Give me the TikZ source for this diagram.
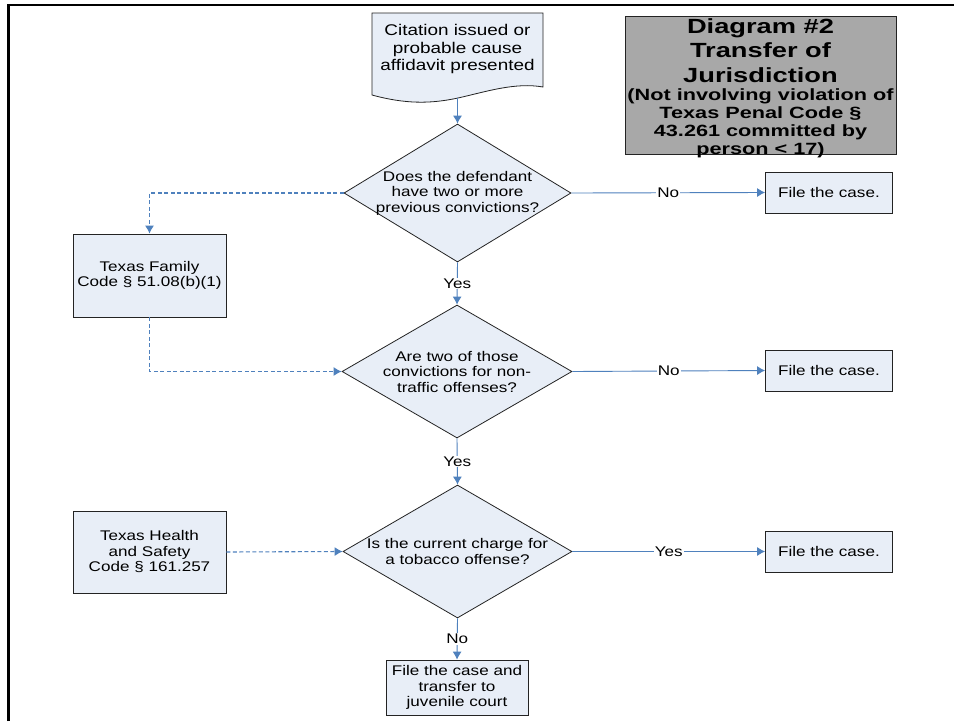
\documentclass[tikz,border=0pt]{standalone}
\usepackage{fontspec}
\setmainfont{Liberation Sans}[FakeStretch=1.22]
\newfontfamily\titlefont{Liberation Sans}[FakeStretch=1.33]
\usetikzlibrary{shapes.geometric,arrows.meta}
\definecolor{nodefill}{RGB}{232,238,247}
\definecolor{conblue}{RGB}{79,129,189}
\definecolor{titlegray}{RGB}{168,168,168}
\definecolor{edgegray}{RGB}{35,35,35}
\begin{document}
\begin{tikzpicture}[x=1pt,y=-1pt,
  txt/.style={font=\fontsize{14}{15.5}\selectfont},
  box/.style={txt, draw=edgegray, line width=0.8pt, fill=nodefill, align=center, inner sep=0pt},
  dec/.style={txt, diamond, draw=edgegray, line width=0.8pt, fill=nodefill, align=center, inner sep=-3pt},
  conn/.style={draw=conblue, line width=0.9pt, -{Latex[length=8pt,width=9pt]}},
  dconn/.style={conn, line width=1.1pt, dash pattern=on 4pt off 2.5pt},
  lbl/.style={txt, fill=white, inner sep=1pt}]
\useasboundingbox (0,0) rectangle (954,721);
\fill[white] (0,0) rectangle (954,721);
% frame
\draw[line width=2.5pt] (8.5,721) -- (8.5,5) -- (954,5);

% title
\draw[draw=edgegray, line width=0.8pt, fill=titlegray] (625,16) rectangle (896,154);
\node[anchor=north, inner sep=0pt] (title) at (760.5,18)
  {\parbox{271pt}{\centering\titlefont\bfseries
   \fontsize{20.5}{24.5}\selectfont Diagram \#2\\Transfer of\\Jurisdiction\par
   \fontsize{16.3}{18}\selectfont (Not involving violation of\\Texas Penal Code §\\43.261 committed by\\person < 17)\par}};

% document shape
\draw[draw=edgegray, line width=0.8pt, fill=nodefill]
  (372,95) -- (372,13) -- (543,13) -- (543,87)
  .. controls (515,82) and (485,92) .. (458,98)
  .. controls (430,104) and (405,104) .. (372,95) -- cycle;
\node[txt, align=center, font=\fontsize{15.5}{17.5}\selectfont, inner sep=0pt] (doc) at (457.5,49)
  {Citation issued or\\probable cause\\affidavit presented};
\coordinate (docb) at (457.5,98);

% decisions
\node[dec, shape aspect=1.645, minimum width=227pt, minimum height=138pt] (d1) at (457.5,193)
  {Does the defendant\\have two or more\\previous convictions?};
\node[dec, shape aspect=1.73, minimum width=230pt, minimum height=133pt] (d2) at (457,371.5)
  {Are two of those\\convictions for non-\\traffic offenses?};
\node[dec, shape aspect=1.72, minimum width=229pt, minimum height=133pt] (d3) at (457.5,551.5)
  {Is the current charge for\\a tobacco offense?};

% boxes
\node[box, minimum width=127pt, minimum height=41pt] (f1) at (829,192.5) {File the case.};
\node[box, minimum width=127pt, minimum height=41pt] (f2) at (829,370.5) {File the case.};
\node[box, minimum width=127pt, minimum height=41pt] (f3) at (829,551.5) {File the case.};
\node[box, minimum width=153pt, minimum height=83pt] (tf) at (149.5,275.5) {Texas Family\\Code § 51.08(b)(1)};
\node[box, minimum width=153pt, minimum height=82pt] (th) at (149.5,552) {Texas Health\\and Safety\\Code § 161.257};
\node[box, minimum width=142pt, minimum height=55pt] (fj) at (457,687.5) {File the case and\\transfer to\\juvenile court};

% connectors
\draw[conn] (docb) -- (d1.north);
\draw[conn] (d1.east) -- node[lbl] (n1) {No} (f1.west);
\draw[conn] (d1.south) -- node[lbl] (y1) {Yes} (d2.north);
\draw[conn] (d2.east) -- node[lbl] (n2) {No} (f2.west);
\draw[conn] (d2.south) -- node[lbl] (y2) {Yes} (d3.north);
\draw[conn] (d3.east) -- node[lbl] (y3) {Yes} (f3.west);
\draw[conn] (d3.south) -- node[lbl] (n3) {No} (fj.north);
\draw[dconn] (d1.west) -| (tf.north);
\draw[dconn] (tf.south) |- (d2.west);
\draw[dconn] (th.east) -- (d3.west);
\end{tikzpicture}
\end{document}
